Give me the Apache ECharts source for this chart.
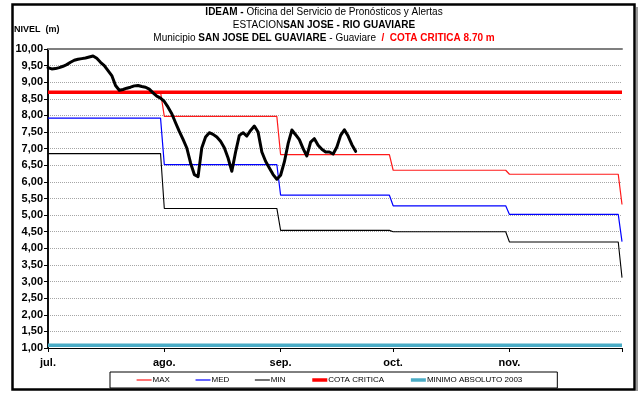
<!DOCTYPE html>
<html>
<head>
<meta charset="utf-8">
<script src="https://cdn.jsdelivr.net/npm/echarts@6/dist/echarts.min.js"></script>
<style>
  html, body { margin: 0; padding: 0; background: #ffffff; }
  #chart { width: 641px; height: 394px; }
</style>
</head>
<body>
<div id="chart"></div>
<script>
// Month ticks: day offsets counted from 1 July
const monthNames = ['jul.', 'ago.', 'sep.', 'oct.', 'nov.'];
const monthStarts = [0, 31, 62, 92, 123, 153];

// Monthly reference levels (m), July .. November plus the closing value on 1 December
const maxLevels = [8.70, 7.97, 6.82, 6.35, 6.23, 5.32];
const medLevels = [7.92, 6.52, 5.60, 5.28, 5.02, 4.20];
const minLevels = [6.85, 5.20, 4.54, 4.50, 4.19, 3.12];

// Fixed thresholds (m)
const cotaCritica = 8.70;
const minimoAbsoluto2003 = 1.08;

// Daily river level (m) from 1 July
const observedLevels = [
  9.44, 9.40, 9.41, 9.44, 9.48, 9.53, 9.60, 9.66, 9.69, 9.71,
  9.73, 9.76, 9.79, 9.72, 9.60, 9.50, 9.35, 9.20, 8.90, 8.76,
  8.78, 8.82, 8.85, 8.89, 8.90, 8.87, 8.85, 8.79, 8.68, 8.58,
  8.52, 8.42, 8.25, 8.05, 7.78, 7.52, 7.28, 7.02, 6.57, 6.22,
  6.16, 7.03, 7.35, 7.48, 7.43, 7.35, 7.22, 7.03, 6.72, 6.32,
  6.90, 7.40, 7.48, 7.38, 7.55, 7.68, 7.50, 6.90, 6.62, 6.42,
  6.22, 6.08, 6.20, 6.60, 7.15, 7.56, 7.42, 7.27, 7.00, 6.78,
  7.20, 7.30, 7.10, 6.98, 6.90, 6.90, 6.84, 7.05, 7.40, 7.57,
  7.38, 7.12, 6.92
];

// Each monthly level is held until the last day of its month
function monthlySteps(levels) {
  const pts = [];
  for (let i = 0; i < levels.length - 1; i++) {
    pts.push([monthStarts[i], levels[i]]);
    pts.push([monthStarts[i + 1] - 1, levels[i]]);
  }
  pts.push([monthStarts[monthStarts.length - 1], levels[levels.length - 1]]);
  return pts;
}

const lastDay = monthStarts[monthStarts.length - 1];
const flat = v => [[0, v], [lastDay, v]];

const chart = echarts.init(document.getElementById('chart'), null, { renderer: 'canvas' });

const narrow = '"Liberation Sans Narrow", "Arial Narrow", "Liberation Sans", Arial, sans-serif';
const sans = '"Liberation Sans", Arial, sans-serif';

chart.setOption({
  animation: false,
  backgroundColor: '#ffffff',
  title: [
    {
      left: 324,
      top: 6,
      padding: 0,
      textAlign: 'center',
      text: '{b|IDEAM -} {n|Oficina del Servicio de Pronósticos y Alertas}\n' +
            '{n|ESTACION}{b|SAN JOSE - RIO GUAVIARE}\n' +
            '{n|Municipio} {b|SAN JOSE DEL GUAVIARE} {n|- Guaviare}  {r|/  COTA CRITICA 8.70 m}',
      textStyle: {
        fontFamily: narrow,
        fontSize: 10,
        lineHeight: 13,
        rich: {
          b: { fontFamily: narrow, fontSize: 10, fontWeight: 'bold', color: '#000', lineHeight: 13 },
          n: { fontFamily: narrow, fontSize: 10, fontWeight: 'normal', color: '#000', lineHeight: 13 },
          r: { fontFamily: narrow, fontSize: 10, fontWeight: 'bold', color: '#ff0000', lineHeight: 13 }
        }
      }
    },
    {
      left: 14,
      top: 21,
      padding: 0,
      text: '{b|NIVEL} {n|(m)}',
      textStyle: {
        rich: {
          b: { fontFamily: narrow, fontSize: 9, fontWeight: 'bold', color: '#000' },
          n: { fontFamily: narrow, fontSize: 9, color: '#000' }
        }
      }
    }
  ],
  legend: {
    left: 110,
    top: 372,
    padding: [4, 35, 4, 26],
    borderColor: '#000',
    borderWidth: 1,
    itemWidth: 15,
    itemHeight: 6,
    itemGap: 25,
    data: ['MAX', 'MED', 'MIN', 'COTA CRITICA', 'MINIMO ABSOLUTO 2003'],
    itemStyle: { opacity: 0 },
    lineStyle: { width: 'inherit' },
    textStyle: { fontFamily: sans, fontSize: 8, color: '#000', padding: [0, 0, 0, -4] }
  },
  grid: { left: 48, right: 19, top: 49, bottom: 46, containLabel: false },
  xAxis: [
    {
      type: 'value',
      min: 0,
      max: lastDay,
      axisLine: { show: true, lineStyle: { color: '#000', width: 1 } },
      axisTick: { show: true, inside: false, length: 4, customValues: monthStarts, lineStyle: { color: '#000' } },
      axisLabel: {
        customValues: monthStarts.slice(0, monthNames.length),
        formatter: v => monthNames[monthStarts.indexOf(v)] || '',
        fontFamily: sans, fontSize: 11, fontWeight: 'bold', color: '#000', margin: 9
      },
      splitLine: { show: false }
    },
    {
      type: 'value',
      position: 'top',
      min: 0,
      max: lastDay,
      axisLine: { show: true, lineStyle: { color: '#7f7f7f', width: 2 } },
      axisTick: { show: false },
      axisLabel: { show: false },
      splitLine: { show: false }
    }
  ],
  yAxis: [
    {
      type: 'value',
      min: 1,
      max: 10,
      interval: 0.5,
      axisLine: { show: true, lineStyle: { color: '#000', width: 1.5 } },
      axisTick: { show: true, inside: false, length: 4, lineStyle: { color: '#000' } },
      axisLabel: {
        formatter: v => v.toFixed(2).replace('.', ','),
        fontFamily: sans, fontSize: 11, fontWeight: 'bold', color: '#000', margin: 5
      },
      splitLine: { show: true, lineStyle: { color: '#a6a6a6', type: [1, 1], width: 1 } }
    },
    {
      type: 'value',
      position: 'right',
      min: 1,
      max: 10,
      interval: 0.5,
      axisLine: { show: true, lineStyle: { color: '#000', width: 1.5 } },
      axisTick: { show: false },
      axisLabel: { show: false },
      splitLine: { show: false }
    }
  ],
  series: [
    {
      name: 'MAX', type: 'line', symbol: 'none', data: monthlySteps(maxLevels),
      lineStyle: { color: '#ff1a1a', width: 1.2 }, itemStyle: { color: '#ff1a1a' }, z: 2
    },
    {
      name: 'MED', type: 'line', symbol: 'none', data: monthlySteps(medLevels),
      lineStyle: { color: '#0000ff', width: 1.2 }, itemStyle: { color: '#0000ff' }, z: 2
    },
    {
      name: 'MIN', type: 'line', symbol: 'none', data: monthlySteps(minLevels),
      lineStyle: { color: '#000000', width: 1.1 }, itemStyle: { color: '#000000' }, z: 2
    },
    {
      name: 'COTA CRITICA', type: 'line', symbol: 'none', data: flat(cotaCritica),
      lineStyle: { color: '#ff0000', width: 3.5 }, itemStyle: { color: '#ff0000' }, z: 3
    },
    {
      name: 'MINIMO ABSOLUTO 2003', type: 'line', symbol: 'none', data: flat(minimoAbsoluto2003),
      lineStyle: { color: '#4bacc6', width: 3.5 }, itemStyle: { color: '#4bacc6' }, z: 3
    },
    {
      name: 'NIVEL', type: 'line', symbol: 'none',
      data: observedLevels.map((v, i) => [i, v]),
      lineStyle: { color: '#000000', width: 3, join: 'round', cap: 'round' }, z: 4
    }
  ],
  graphic: [
    {
      type: 'rect', silent: true, z: 10,
      shape: { x: 12.5, y: 4.5, width: 622, height: 385 },
      style: { fill: 'none', stroke: '#000', lineWidth: 2.5 }
    },
    {
      type: 'line', silent: true, z: 9,
      shape: { x1: 637, y1: 7, x2: 637, y2: 391 },
      style: { stroke: '#9a9a9a', lineWidth: 2 }
    }
  ]
});
</script>
</body>
</html>
